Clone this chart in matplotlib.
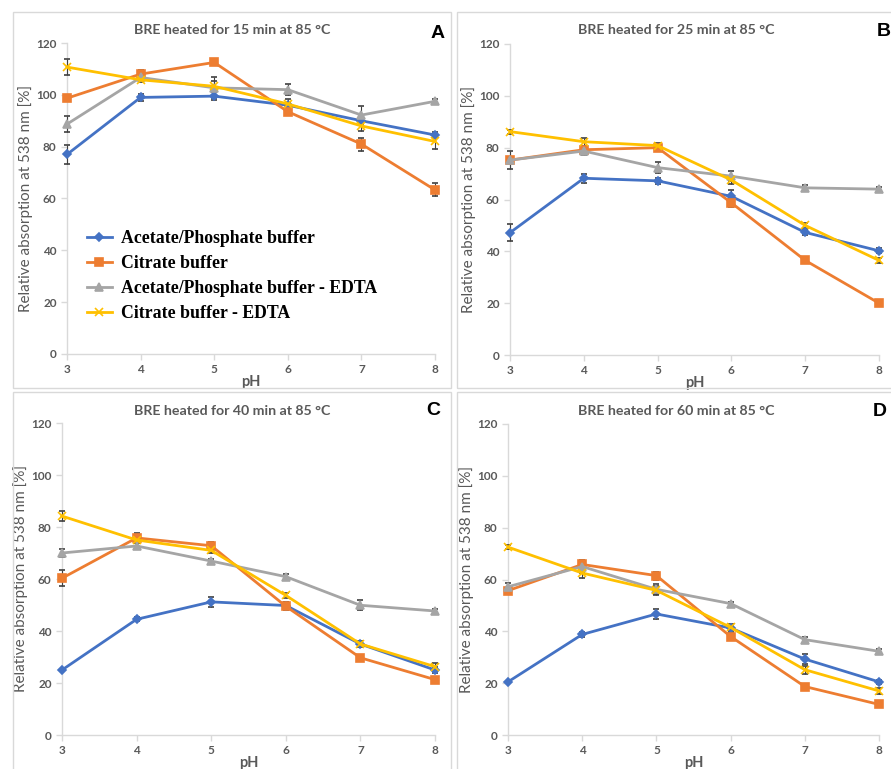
import matplotlib.pyplot as plt
from matplotlib.patches import Rectangle
from matplotlib.lines import Line2D

ph = [3, 4, 5, 6, 7, 8]
series_names = ["Acetate/Phosphate buffer", "Citrate buffer",
                "Acetate/Phosphate buffer - EDTA", "Citrate buffer - EDTA"]
titles = ["BRE heated for 15 min at 85 °C", "BRE heated for 25 min at 85 °C",
          "BRE heated for 40 min at 85 °C", "BRE heated for 60 min at 85 °C"]
letters = ["A", "B", "C", "D"]

# panel A - 15 min
a_acet = [77, 99, 99.5, 96, 90, 84.5]
a_acet_err = [3.7, 1.2, 1.5, 1, 1, 1]
a_citr = [98.7, 108, 112.5, 93.5, 81, 63.3]
a_citr_err = [1, 1.5, 0.5, 1, 2.5, 2.5]
a_acet_edta = [88.7, 106.7, 102.7, 102, 92.2, 97.5]
a_acet_edta_err = [3, 1.5, 4, 2, 3.5, 1]
a_citr_edta = [110.7, 105.8, 103.3, 96.5, 88, 82]
a_citr_edta_err = [3, 1, 2, 2, 2, 3]

# panel B - 25 min
b_acet = [47.2, 68.2, 67.2, 61.2, 47.3, 40.2]
b_acet_err = [3.3, 1.8, 1.2, 2.5, 1, 1]
b_citr = [75.2, 79.2, 80, 58.7, 36.5, 20]
b_citr_err = [1, 1, 1, 1.5, 1, 0.5]
b_acet_edta = [75.2, 78.7, 72.3, 69, 64.5, 64]
b_acet_edta_err = [3.5, 1.5, 2, 2, 1, 1]
b_citr_edta = [86.2, 82.3, 80.8, 67.5, 50, 36.5]
b_citr_edta_err = [0.8, 1.5, 1, 1.5, 1, 1]

# panel C - 40 min
c_acet = [25, 44.5, 51.2, 49.8, 35, 25]
c_acet_err = [0.5, 0.8, 1.8, 1.5, 1, 1]
c_citr = [60.3, 75.8, 72.8, 49.5, 29.7, 21.3]
c_citr_err = [3, 1.8, 1.5, 1.5, 1.2, 0.5]
c_acet_edta = [70, 72.7, 66.9, 60.9, 49.9, 47.7]
c_acet_edta_err = [1.5, 1, 0.8, 1, 2, 0.8]
c_citr_edta = [84.2, 75, 71, 53.7, 35, 26.3]
c_citr_edta_err = [2, 1, 1, 1, 1, 1.5]

# panel D - 60 min
d_acet = [20.5, 38.8, 46.7, 41.3, 29.3, 20.5]
d_acet_err = [0.5, 1, 1.8, 1.5, 2, 0.8]
d_citr = [55.7, 65.8, 61.5, 38, 18.7, 11.8]
d_citr_err = [1, 1.5, 1.5, 1, 0.5, 0.5]
d_acet_edta = [57.2, 65, 56.2, 50.7, 36.8, 32.3]
d_acet_edta_err = [1.5, 2.5, 2, 0.8, 1, 0.8]
d_citr_edta = [72.5, 62.5, 55.8, 41.5, 25.2, 17]
d_citr_edta_err = [0.8, 2, 1.5, 1, 1.5, 1]

panels = [
    [(a_acet, a_acet_err), (a_citr, a_citr_err), (a_acet_edta, a_acet_edta_err), (a_citr_edta, a_citr_edta_err)],
    [(b_acet, b_acet_err), (b_citr, b_citr_err), (b_acet_edta, b_acet_edta_err), (b_citr_edta, b_citr_edta_err)],
    [(c_acet, c_acet_err), (c_citr, c_citr_err), (c_acet_edta, c_acet_edta_err), (c_citr_edta, c_citr_edta_err)],
    [(d_acet, d_acet_err), (d_citr, d_citr_err), (d_acet_edta, d_acet_edta_err), (d_citr_edta, d_citr_edta_err)],
]

colors = ["#4472C4", "#ED7D31", "#A5A5A5", "#FFC000"]
markers = ["D", "s", "^", "x"]
msizes = [4, 6, 6, 6]

W, H = 891, 769
fig = plt.figure(figsize=(W / 100, H / 100), dpi=100)

# axes boxes in pixels: left, top, right, bottom
boxes = [(67, 43, 435, 354), (510, 44, 879, 355), (62, 423, 435, 735), (508, 424, 879, 735)]
frames = [(13, 12, 451, 388), (457, 12, 895, 388), (13, 392, 451, 772), (457, 392, 895, 772)]
letter_pos = [(438, 33), (884, 31), (433, 410), (880, 411)]
title_y = [30, 30, 411, 411]

for fr in frames:
    fig.add_artist(Rectangle((fr[0] / W, 1 - fr[3] / H), (fr[2] - fr[0]) / W, (fr[3] - fr[1]) / H,
                             transform=fig.transFigure, fill=False, edgecolor="#D9D9D9", lw=1))

grey = "#595959"
for i, (l, t, r, b) in enumerate(boxes):
    ax = fig.add_axes([l / W, 1 - b / H, (r - l) / W, (b - t) / H])
    for j, (vals, errs) in enumerate(panels[i]):
        ax.errorbar(ph, vals, yerr=errs, color=colors[j], marker=markers[j], ms=msizes[j],
                    mew=1.2, lw=2, ecolor="#404040", elinewidth=0.8, capsize=2.5, capthick=0.8,
                    clip_on=False, zorder=3)
    ax.set_xlim(3, 8)
    ax.set_ylim(0, 120)
    ax.set_yticks(range(0, 121, 20))
    ax.set_xticks(ph)
    for s in ["top", "right"]:
        ax.spines[s].set_visible(False)
    for s in ["left", "bottom"]:
        ax.spines[s].set_color("#D9D9D9")
        ax.spines[s].set_linewidth(1)
    ax.tick_params(colors="#D9D9D9", labelcolor=grey, length=4, width=1)
    for lab in ax.get_xticklabels() + ax.get_yticklabels():
        lab.set_fontfamily("Lato")
        lab.set_fontweight("bold")
        lab.set_fontsize(8.5)
    fr = frames[i]
    fig.text((fr[0] + fr[2]) / 2 / W, 1 - title_y[i] / H, titles[i], family="Lato",
             fontweight="bold", fontsize=10.2, color=grey, ha="center", va="center")
    ax.set_xlabel("pH", family="Lato", fontweight="bold", fontsize=10.5, color=grey, labelpad=0)
    ax.set_ylabel("Relative absorption at 538 nm [%]", family="Lato", fontsize=11, color=grey, labelpad=2)
    fig.text(letter_pos[i][0] / W, 1 - letter_pos[i][1] / H, letters[i], family="Liberation Sans",
             fontweight="bold", fontsize=14, ha="center", va="center", color="black")
    if i == 0:
        handles = [Line2D([], [], color=colors[j], marker=markers[j], ms=msizes[j], mew=1.2, lw=2)
                   for j in range(4)]
        ax.legend(handles, series_names, loc="lower left", bbox_to_anchor=(0.01, 0.05), frameon=False,
                  prop={"family": "Liberation Serif", "weight": "bold", "size": 12.8},
                  labelspacing=0.45, handlelength=1.4, handletextpad=0.55)

fig.savefig("out.png", dpi=100)
